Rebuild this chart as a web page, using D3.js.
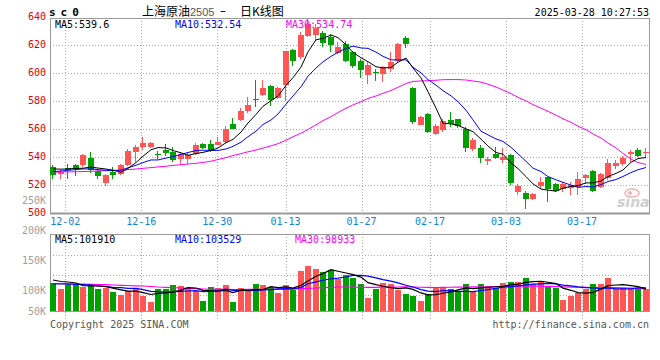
<!DOCTYPE html>
<html>
<head>
<meta charset="utf-8">
<script src="https://cdn.jsdelivr.net/npm/d3@7"></script>
<style>
body { margin: 0; background: #fff; }
text { font-family: "DejaVu Sans Mono", monospace; font-size: 10px; }
</style>
</head>
<body>
<div id="chart"></div>
<script>
// trading days shown on the daily chart
const dates = [
  "11-28","11-29",
  "12-02","12-03","12-04","12-05","12-06","12-09","12-10","12-11","12-12","12-13",
  "12-16","12-17","12-18","12-19","12-20","12-23","12-24","12-25","12-26","12-27",
  "12-30","12-31","01-02","01-03","01-06","01-07","01-08","01-09","01-10",
  "01-13","01-14","01-15","01-16","01-17","01-20","01-21","01-22","01-23","01-24",
  "01-27","02-05","02-06","02-07","02-10","02-11","02-12","02-13","02-14",
  "02-17","02-18","02-19","02-20","02-21","02-24","02-25","02-26","02-27","02-28",
  "03-03","03-04","03-05","03-06","03-07","03-10","03-11","03-12","03-13","03-14",
  "03-17","03-18","03-19","03-20","03-21","03-24","03-25","03-26","03-27","03-28"
];

const opens = [
  532.8, 528.0, 532.4, 534.0, 534.0, 539.3, 529.7, 521.6, 529.3, 528.1,
  534.5, 543.6, 547.2, 547.2, 542.0, 545.3, 543.6, 538.8, 538.8, 542.4,
  549.5, 549.5, 548.8, 550.7, 563.9, 566.7, 572.7, 581.5, 584.6, 590.6,
  582.2, 591.3, 616.4, 611.2, 626.7, 627.1, 628.6, 625.5, 614.3, 620.7,
  614.8, 608.8, 598.6, 601.0, 599.3, 602.9, 608.8, 625.0, 589.0, 562.9,
  570.7, 556.4, 559.5, 566.7, 567.1, 560.0, 545.7, 546.2, 537.1, 541.9,
  537.9, 541.4, 514.8, 514.0, 510.0, 519.5, 525.5, 520.5, 517.1, 518.1,
  518.8, 525.2, 530.0, 518.8, 524.8, 533.6, 534.8, 541.9, 545.0, 543.3
];
const highs = [
  534.0, 531.0, 534.7, 535.2, 542.4, 543.6, 530.5, 528.1, 532.8, 534.7,
  546.0, 548.8, 554.3, 550.7, 544.0, 549.5, 547.2, 543.6, 543.6, 550.3,
  550.0, 552.0, 554.3, 562.2, 567.9, 575.1, 583.0, 594.9, 594.9, 591.3,
  590.1, 615.7, 617.0, 629.0, 638.6, 635.0, 630.2, 627.9, 621.9, 623.0,
  616.0, 610.0, 607.6, 602.9, 605.2, 614.8, 621.4, 626.2, 589.8, 569.5,
  571.4, 563.6, 567.1, 571.9, 567.1, 561.2, 553.3, 548.6, 540.2, 547.4,
  546.2, 541.9, 520.5, 515.7, 514.0, 526.0, 526.0, 521.2, 522.4, 522.4,
  529.0, 527.6, 530.7, 528.3, 538.6, 537.9, 541.0, 545.0, 546.7, 546.7
];
const lows = [
  524.0, 524.5, 524.0, 526.4, 532.8, 528.8, 524.5, 519.2, 524.5, 526.9,
  533.6, 536.4, 544.8, 546.4, 538.8, 540.7, 536.4, 534.0, 535.2, 541.2,
  546.0, 543.6, 548.4, 550.3, 559.8, 565.5, 571.7, 575.8, 583.7, 576.5,
  581.3, 580.0, 605.2, 610.0, 625.5, 623.0, 618.3, 614.8, 613.6, 607.6,
  603.3, 596.2, 592.1, 594.5, 593.8, 600.5, 608.1, 617.6, 563.6, 562.9,
  557.1, 555.7, 558.1, 561.2, 560.5, 543.3, 544.5, 535.5, 534.3, 538.6,
  535.5, 520.0, 512.9, 503.0, 509.3, 517.1, 508.1, 514.8, 515.2, 512.9,
  512.9, 520.5, 514.8, 518.1, 523.6, 531.4, 533.8, 536.7, 540.2, 539.5
];
const closes = [
  526.9, 529.5, 531.0, 531.6, 541.2, 530.5, 526.4, 527.4, 527.4, 534.0,
  544.0, 547.2, 550.3, 550.3, 541.5, 543.1, 537.6, 542.4, 541.2, 548.4,
  546.7, 544.8, 550.7, 560.3, 560.3, 572.7, 577.5, 581.0, 589.4, 580.6,
  589.0, 615.7, 608.8, 627.1, 635.0, 631.9, 621.4, 620.0, 618.3, 608.8,
  605.2, 602.4, 605.7, 600.5, 604.0, 607.6, 620.7, 620.7, 565.2, 568.3,
  558.1, 562.4, 566.0, 563.6, 562.4, 546.2, 552.4, 539.5, 538.3, 539.5,
  540.2, 521.2, 519.3, 510.0, 513.3, 521.9, 517.1, 515.7, 520.5, 520.0,
  524.3, 527.1, 515.7, 527.6, 535.5, 535.5, 539.0, 543.3, 541.0, 543.8
];

// moving averages as drawn on the chart
const ma5 = [
  531.5, 531.3, 531.5, 531.8, 532.0, 532.8, 532.1, 531.4, 530.6, 529.1,
  531.8, 536.0, 540.6, 545.2, 546.7, 546.5, 544.6, 543.0, 541.2, 542.5,
  543.3, 544.7, 546.4, 550.2, 552.6, 557.8, 564.3, 570.4, 576.2, 580.2,
  583.5, 591.1, 596.7, 604.2, 615.1, 623.7, 624.8, 627.1, 625.3, 620.1,
  614.7, 610.9, 608.1, 604.5, 603.6, 604.0, 607.7, 610.7, 603.6, 596.5,
  586.6, 574.9, 564.0, 563.7, 562.5, 560.1, 558.1, 552.8, 547.8, 543.2,
  542.0, 535.7, 531.7, 526.0, 520.8, 517.1, 516.3, 515.6, 517.7, 519.0,
  519.5, 521.5, 521.5, 522.9, 526.0, 528.3, 530.7, 536.2, 538.9, 539.6
];
const ma10 = [
  529.5, 530.0, 530.5, 531.0, 531.5, 531.5, 531.0, 530.5, 530.2, 530.6,
  532.3, 534.1, 536.0, 537.9, 537.9, 539.2, 540.3, 541.8, 543.2, 544.6,
  544.9, 544.7, 544.7, 545.7, 547.6, 550.6, 554.5, 558.4, 563.2, 566.4,
  570.7, 577.7, 583.6, 590.2, 597.7, 603.6, 608.0, 611.9, 614.8, 617.6,
  619.2, 617.9, 617.6, 614.9, 611.9, 609.4, 609.3, 609.4, 604.1, 600.1,
  595.3, 591.3, 587.4, 583.7, 579.5, 573.4, 566.5, 558.4, 555.8, 552.9,
  551.1, 546.9, 542.3, 536.9, 532.0, 529.6, 526.0, 523.7, 521.9, 519.9,
  518.3, 518.9, 518.6, 520.3, 522.5, 523.9, 526.1, 528.9, 530.9, 532.5
];
const ma30 = [
  529.3, 529.3, 529.4, 529.5, 529.6, 529.8, 530.0, 530.2, 530.4, 530.7,
  531.0, 531.4, 531.9, 532.4, 532.9, 533.4, 534.0, 534.5, 535.0, 535.5,
  536.1, 537.0, 538.2, 539.5, 541.0, 542.4, 543.7, 545.0, 546.4, 548.0,
  549.5, 552.0, 554.5, 557.0, 559.6, 563.0, 566.0, 568.8, 571.8, 574.8,
  577.2, 579.5, 581.8, 583.6, 585.5, 587.5, 589.8, 592.5, 594.0, 594.3,
  594.5, 594.8, 595.2, 595.3, 595.3, 595.0, 594.3, 593.5, 592.0, 590.0,
  587.8, 585.3, 582.6, 580.1, 577.4, 574.9, 572.6, 569.9, 567.3, 564.8,
  562.0, 559.5, 556.5, 553.5, 550.0, 546.5, 542.5, 538.5, 536.0, 534.7
];

// volume, in thousands
const volumes = [
  111.0, 101.7, 109.5, 108.5, 105.6, 109.5, 101.7, 102.8, 96.0, 91.7,
  98.3, 101.7, 90.6, 80.0, 101.7, 101.7, 108.3, 106.7, 101.7, 98.3,
  81.7, 105.0, 102.8, 108.3, 80.0, 103.3, 102.0, 110.0, 108.3, 105.0,
  95.0, 108.3, 100.0, 131.7, 140.0, 135.0, 130.0, 133.3, 118.3, 125.5,
  120.5, 110.0, 87.0, 101.7, 111.7, 110.0, 100.5, 93.3, 90.0, 81.7,
  93.3, 103.9, 103.9, 101.7, 98.3, 110.0, 98.3, 110.0, 106.0, 102.8,
  112.2, 113.9, 113.9, 120.5, 109.5, 115.0, 105.6, 102.8, 83.3, 90.6,
  95.6, 101.7, 109.5, 109.5, 120.0, 101.0, 104.0, 102.5, 101.0, 101.0
];
const volMa5 = [
  116.7, 114.2, 113.3, 111.7, 107.3, 107.0, 107.0, 105.6, 103.1, 100.3,
  98.1, 98.1, 95.7, 92.5, 94.5, 95.1, 96.5, 99.7, 104.0, 103.3,
  99.3, 98.7, 97.9, 99.2, 95.6, 99.9, 99.3, 100.7, 100.7, 105.7,
  104.1, 105.3, 103.3, 108.0, 115.0, 123.0, 127.3, 134.0, 131.3, 128.4,
  125.5, 121.5, 112.3, 108.9, 106.2, 104.1, 102.2, 103.4, 101.1, 95.1,
  91.8, 92.4, 94.6, 96.9, 100.2, 103.6, 102.4, 103.7, 104.5, 105.4,
  105.9, 109.0, 109.8, 112.7, 114.0, 114.6, 112.9, 110.7, 103.2, 99.5,
  95.6, 94.8, 96.1, 101.4, 107.3, 108.3, 108.8, 107.4, 105.7, 101.9
];
const volMa10 = [
  110.0, 110.0, 110.0, 109.5, 109.2, 108.3, 106.7, 105.8, 104.5, 103.8,
  102.6, 102.6, 100.7, 97.8, 97.4, 96.6, 97.3, 97.7, 98.3, 98.9,
  97.2, 97.6, 98.8, 101.6, 99.5, 99.6, 99.0, 99.3, 100.0, 100.7,
  102.0, 102.3, 102.0, 104.4, 110.4, 113.6, 116.3, 118.7, 119.7, 121.7,
  124.3, 124.4, 123.2, 120.1, 117.3, 114.8, 111.9, 107.9, 105.0, 100.7,
  98.0, 97.3, 99.0, 99.0, 97.7, 97.7, 97.4, 99.2, 100.7, 102.8,
  104.8, 105.7, 106.8, 108.6, 109.7, 110.3, 111.0, 110.3, 108.0, 106.8,
  105.1, 103.9, 103.4, 102.3, 103.4, 102.0, 101.8, 101.8, 103.6, 103.5
];
const volMa30 = [
  110.8, 110.8, 110.3, 110.0, 110.0, 109.5, 109.2, 108.8, 108.3, 107.8,
  107.5, 107.0, 106.7, 105.8, 105.0, 104.5, 104.0, 103.3, 102.8, 102.3,
  101.7, 101.2, 101.0, 100.9, 100.8, 100.8, 100.9, 101.0, 101.0, 101.1,
  101.1, 101.3, 101.7, 102.3, 102.8, 103.3, 104.0, 104.5, 105.0, 105.0,
  104.8, 104.6, 104.5, 104.5, 104.7, 104.9, 105.0, 105.2, 105.0, 104.6,
  104.3, 104.2, 104.4, 104.6, 104.8, 105.0, 105.1, 105.3, 105.4, 105.5,
  105.7, 106.0, 106.2, 106.4, 106.5, 106.3, 106.0, 105.6, 105.2, 104.9,
  104.6, 104.3, 104.2, 104.0, 104.1, 103.9, 103.6, 103.2, 102.6, 101.8
];

const priceTicks = [640, 620, 600, 580, 560, 540, 520, 500];
const volTicks = [250, 200, 150, 100, 50];
const dateTicks = ["12-02", "12-16", "12-30", "01-13", "01-27", "02-17", "03-03", "03-17"];

const priceLegend = [
  { text: "MA5:539.6", color: "#000", x: 55 },
  { text: "MA10:532.54", color: "#0000ff", x: 175 },
  { text: "MA30:534.74", color: "#ff00ff", x: 286 }
];
const volLegend = [
  { text: "MA5:101910", color: "#000", x: 55 },
  { text: "MA10:103529", color: "#0000ff", x: 175 },
  { text: "MA30:98933", color: "#ff00ff", x: 295 }
];

const UP = "#ff5555", DOWN = "#00a000", GRID = "#a8a8a8", BORDER = "#999";

const left = 50, right = 649;
const mainTop = 18, mainBottom = 213;
const volTop = 234, volBottom = 311;

const svg = d3.select("#chart").append("svg")
    .attr("width", 660)
    .attr("height", 360);

const x = d3.scaleBand()
    .domain(dates)
    .range([50, 648.5])
    .paddingInner(0.2)
    .paddingOuter(0)
    .align(0);
// sina puts its date grid on a slightly wider step than the bars
const gridX = d3.scaleLinear().domain([0, dates.length]).range([50, 658]);
const y = d3.scaleLinear().domain([500, 640]).range([213, 17]);
const yVol = d3.scaleLinear().domain([100, 150]).range([290, 260]);

const bx = d => Math.round(x(d));
const cx = i => bx(dates[i]) + 3;

// grid
let grid = svg.append("g")
    .attr("stroke", GRID)
    .attr("stroke-dasharray", "1,2");

grid.selectAll(".hg")
    .data(priceTicks.filter(t => t > 500 && t < 640))
    .enter().append("line")
    .attr("x1", left).attr("x2", right)
    .attr("y1", d => y(d) + 0.5).attr("y2", d => y(d) + 0.5);

grid.selectAll(".vg")
    .data([0.27, 0.53, 0.79])
    .enter().append("line")
    .attr("x1", left).attr("x2", right)
    .attr("y1", f => Math.round(volTop + f * (volBottom - volTop)) + 0.5)
    .attr("y2", f => Math.round(volTop + f * (volBottom - volTop)) + 0.5);

dateTicks.forEach(d => {
    let gx = Math.round(gridX(dates.indexOf(d))) + 0.5;
    grid.append("line").attr("x1", gx).attr("x2", gx).attr("y1", mainTop).attr("y2", mainBottom);
    grid.append("line").attr("x1", gx).attr("x2", gx).attr("y1", volTop).attr("y2", 320);
});

// frames
svg.append("rect")
    .attr("x", left + 0.5).attr("y", mainTop + 0.5)
    .attr("width", right - left).attr("height", mainBottom - mainTop)
    .attr("fill", "none").attr("stroke", BORDER);
svg.append("line")
    .attr("x1", left).attr("x2", right + 1)
    .attr("y1", mainBottom + 0.5).attr("y2", mainBottom + 0.5)
    .attr("stroke", BORDER).attr("stroke-width", 2);
svg.append("rect")
    .attr("x", left + 0.5).attr("y", volTop + 0.5)
    .attr("width", right - left).attr("height", volBottom - volTop)
    .attr("fill", "none").attr("stroke", BORDER);

// watermark
let logo = svg.append("g");
logo.append("ellipse")
    .attr("cx", 632).attr("cy", 193).attr("rx", 7).attr("ry", 4)
    .attr("fill", "none").attr("stroke", "#f2b0b0").attr("stroke-width", 1.5);
logo.append("circle").attr("cx", 630).attr("cy", 193).attr("r", 2).attr("fill", "#f2b0b0");
logo.append("text")
    .attr("x", 617).attr("y", 207)
    .style("font-family", "DejaVu Sans")
    .style("font-size", "14px")
    .style("font-weight", "bold")
    .style("font-style", "italic")
    .attr("fill", "#cfcfcf")
    .text("sina");

// candles
let candles = svg.append("g").selectAll("g")
    .data(dates)
    .enter().append("g")
    .attr("class", "candle");

const colorOf = i => closes[i] >= opens[i] ? UP : DOWN;

candles.append("line")
    .attr("x1", (d, i) => bx(d) + 2.5).attr("x2", (d, i) => bx(d) + 2.5)
    .attr("y1", (d, i) => Math.round(y(highs[i])))
    .attr("y2", (d, i) => Math.round(y(lows[i])))
    .attr("stroke", (d, i) => colorOf(i));

candles.append("rect")
    .attr("x", d => bx(d))
    .attr("width", 6)
    .attr("y", (d, i) => Math.round(y(Math.max(opens[i], closes[i]))))
    .attr("height", (d, i) => Math.max(1, Math.round(y(Math.min(opens[i], closes[i]))) - Math.round(y(Math.max(opens[i], closes[i])))))
    .attr("fill", (d, i) => colorOf(i));

// volume bars
svg.append("g").selectAll("rect")
    .data(volumes)
    .enter().append("rect")
    .attr("x", (v, i) => bx(dates[i]))
    .attr("width", 6)
    .attr("y", v => Math.round(yVol(v)))
    .attr("height", v => volBottom - Math.round(yVol(v)))
    .attr("fill", (v, i) => colorOf(i));

// average lines
const priceLine = d3.line().x((v, i) => cx(i)).y(v => y(v));
const volLine = d3.line().x((v, i) => cx(i)).y(v => yVol(v));

[[ma30, "#ff00ff"], [ma10, "#0000ff"], [ma5, "#000"]].forEach(([s, c]) => {
    svg.append("path").attr("d", priceLine(s))
        .attr("fill", "none").attr("stroke", c).attr("stroke-width", 1);
});
[[volMa30, "#ff00ff"], [volMa10, "#0000ff"], [volMa5, "#000"]].forEach(([s, c]) => {
    svg.append("path").attr("d", volLine(s))
        .attr("fill", "none").attr("stroke", c).attr("stroke-width", 1.2);
});

// axis labels
svg.append("g").selectAll("text")
    .data(priceTicks)
    .enter().append("text")
    .attr("x", 46).attr("y", d => y(d) + 3)
    .attr("text-anchor", "end")
    .attr("fill", "#e00000")
    .text(d => d);

svg.append("g").selectAll("text")
    .data(volTicks)
    .enter().append("text")
    .attr("x", 46).attr("y", d => Math.min(yVol(d), volBottom) + 3.5)
    .attr("text-anchor", "end")
    .attr("fill", "#a0a0a0")
    .text(d => d + "K");

svg.append("g").selectAll("text")
    .data(dateTicks)
    .enter().append("text")
    .attr("x", d => gridX(dates.indexOf(d)))
    .attr("y", 225)
    .attr("text-anchor", "middle")
    .attr("fill", "#0a86d6")
    .text(d => d);

// legends
svg.append("g").selectAll("text")
    .data(priceLegend)
    .enter().append("text")
    .attr("x", d => d.x).attr("y", 27.5)
    .attr("fill", d => d.color)
    .text(d => d.text);

svg.append("g").selectAll("text")
    .data(volLegend)
    .enter().append("text")
    .attr("x", d => d.x).attr("y", 242.5)
    .attr("fill", d => d.color)
    .text(d => d.text);

// titles
svg.append("text")
    .attr("x", 49).attr("y", 16)
    .style("font-size", "11px").style("font-weight", "bold")
    .style("letter-spacing", "5px")
    .text("sc0");

const cjk = "'Noto Sans CJK SC', sans-serif";
svg.append("text").attr("x", 142).attr("y", 16)
    .style("font-family", cjk).style("font-size", "12px")
    .text("上海原油");
svg.append("text").attr("x", 190).attr("y", 16)
    .style("font-family", "'Liberation Sans', sans-serif").style("font-size", "11px")
    .attr("fill", "#555")
    .text("2505");
svg.append("text").attr("x", 220).attr("y", 15)
    .style("font-family", "'DejaVu Sans', sans-serif").style("font-size", "12px")
    .text("–");
svg.append("text").attr("x", 240).attr("y", 16)
    .style("font-family", cjk).style("font-size", "12px")
    .text("日K线图");

svg.append("text")
    .attr("x", 649).attr("y", 16)
    .attr("text-anchor", "end")
    .text("2025-03-28 10:27:53");

svg.append("text")
    .attr("x", 50).attr("y", 328)
    .attr("fill", "#555")
    .text("Copyright 2025 SINA.COM");
svg.append("text")
    .attr("x", 649).attr("y", 328)
    .attr("text-anchor", "end")
    .attr("fill", "#555")
    .text("http://finance.sina.com.cn");
</script>
</body>
</html>
